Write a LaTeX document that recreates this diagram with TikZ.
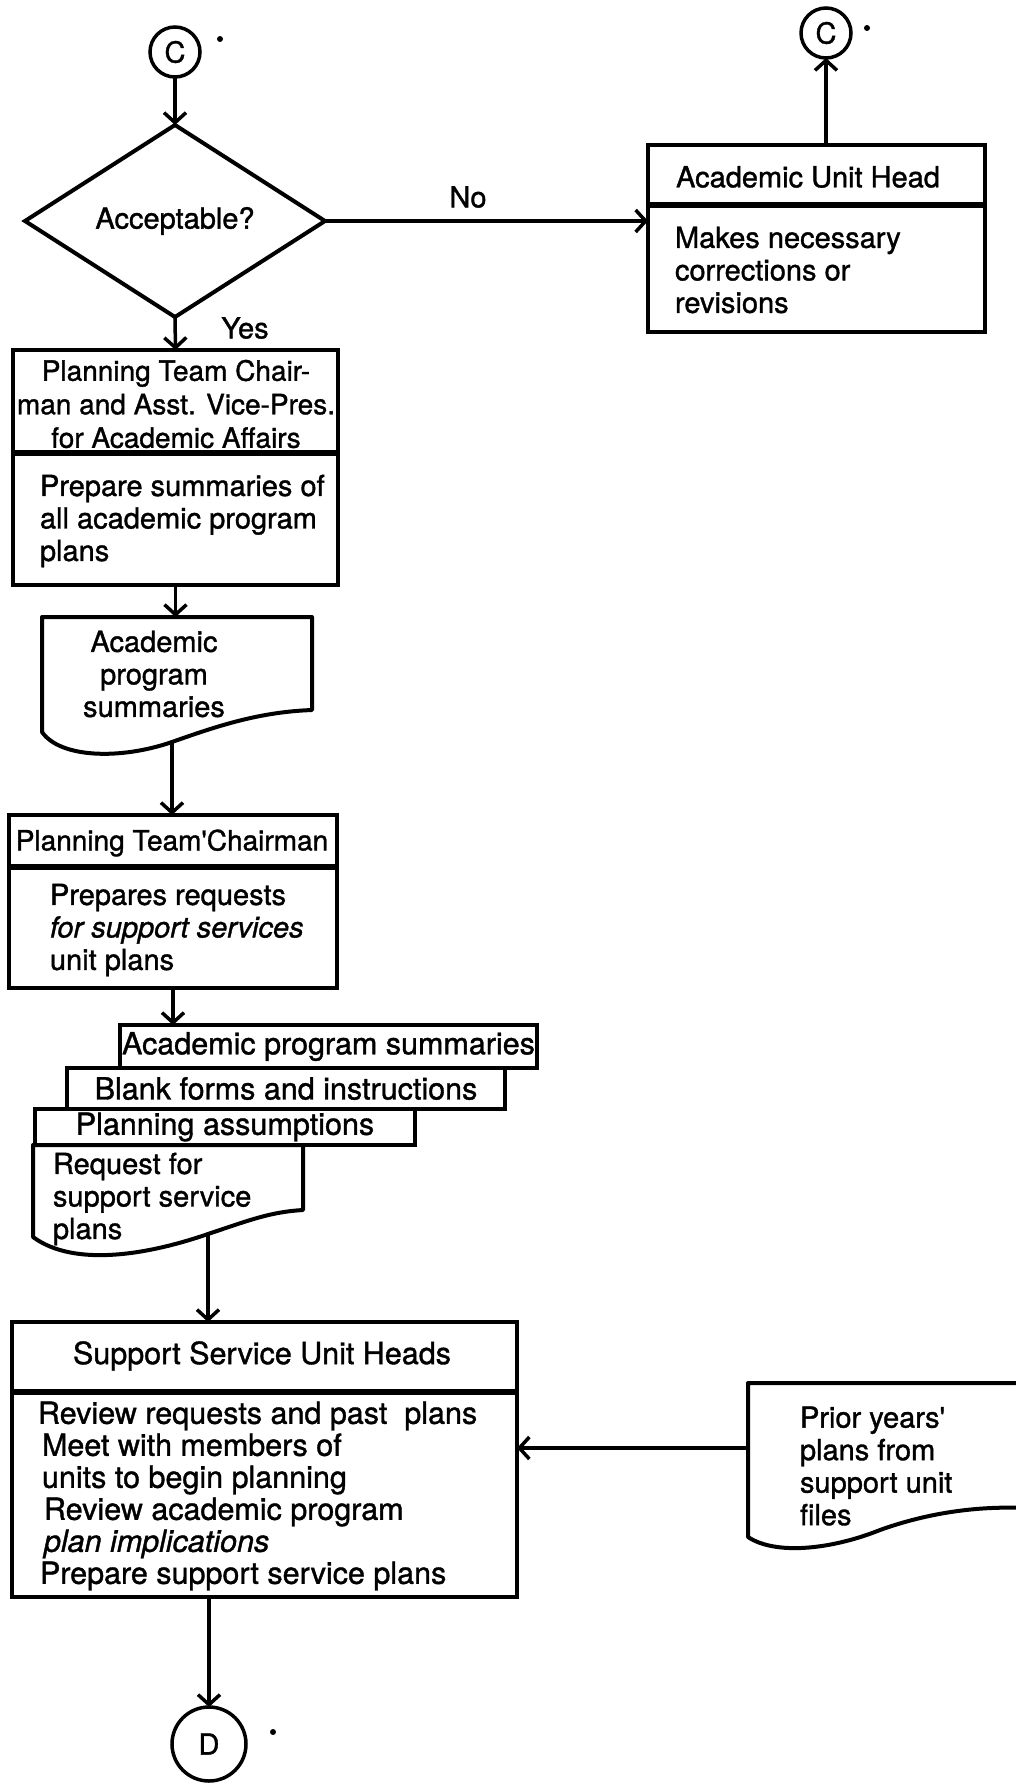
\documentclass[tikz,border=0pt]{standalone}
\usepackage{fontspec}
\setmainfont{TeX Gyre Heros}[FakeBold=1.2]
\newfontfamily\straightquote{TeX Gyre Heros}[FakeBold=1.2, Ligatures=TeXOff]
\newcommand{\tick}{{\straightquote '}}
\usetikzlibrary{arrows.meta,shapes.geometric}
\begin{document}
\begin{tikzpicture}[x=1pt,y=-1pt,
  every node/.style={font=\fontsize{29}{32.5}\selectfont, inner sep=0pt, outer sep=0pt},
  flow/.style={line width=3.5pt, -{Straight Barb[length=10pt,width=22pt,line width=3.5pt]}},
  frame/.style={draw, line width=4pt, rectangle, fill=white, anchor=north west},
  divider/.style={line width=6pt},
  junction/.style={draw, circle, line width=3.5pt, minimum size=50pt},
  leftlines/.style={align=left, anchor=west},
  midlines/.style={align=center},
  docedge/.style={line width=4pt, line join=round, fill=white},
  mark dot/.style={fill=black},
  narrow/.style={font=\fontsize{28}{33.5}\selectfont},
  large/.style={font=\fontsize{30.5}{32}\selectfont},
]
\useasboundingbox (0,0) rectangle (1016,1783);

% ---- decision on the returned plan
\node[junction] (c1) at (175,52) {C};
\fill[mark dot] (220,39) circle (3pt);
\node[draw, diamond, line width=4pt, minimum width=300pt, minimum height=192pt] (dec) at (175,221) {Acceptable?};
\node (yes) at (245,328) {Yes};
\node (no) at (468,197) {No};

% ---- academic unit head
\node[frame, minimum width=337pt, minimum height=187pt] (auh) at (648,145) {};
\draw[divider] (auh.west |- 0,205) -- (auh.east |- 0,205);
\node (auht) at (808,177) {Academic Unit Head};
\node[leftlines] (auhb) at (675,270) {Makes necessary\\corrections or\\revisions};
\node[junction] (c2) at (826,33) {C};
\fill[mark dot] (867,28) circle (3pt);

% ---- summaries of academic plans
\node[frame, minimum width=325pt, minimum height=235pt] (b1) at (13,350) {};
\draw[divider] (b1.west |- 0,453) -- (b1.east |- 0,453);
\node[midlines, narrow] (b1t) at (176,404) {Planning Team Chair-\\man and Asst. Vice-Pres.\\for Academic Affairs};
\node[leftlines] (b1b) at (40,521) {Prepare summaries of\\all academic program\\plans};

% document: academic program summaries
\node[anchor=north west, minimum width=270pt, minimum height=93pt] (d1) at (42,617) {};
\draw[docedge] (42,617) -- (312,617) -- (312,710)
  .. controls (260,712) and (220,725) .. (172,742)
  .. controls (120,760) and (60,758) .. (42,732) -- cycle;
\coordinate (d1out) at (172,742);
\node[midlines] (d1t) at (154,674) {Academic\\program\\summaries};

% ---- requests for support service plans
\node[frame, minimum width=328pt, minimum height=173pt] (b2) at (9,815) {};
\draw[divider] (b2.west |- 0,867) -- (b2.east |- 0,867);
\node[narrow] (b2t) at (172,843) {Planning Team\tick Chairman};
\node[leftlines] (b2b) at (50,930) {Prepares requests\\\itshape for support services\\unit plans};

% stacked documents
\node[frame, large, minimum width=417pt, minimum height=43pt] (s1) at (120,1025) {Academic program summaries};
\node[frame, large, minimum width=438pt, minimum height=41pt] (s2) at (67,1068) {Blank forms and instructions};
\node[frame, large, minimum width=380pt, minimum height=36pt] (s3) at (35,1109) {Planning assumptions};
\draw[docedge] (33,1145) -- (303,1145) -- (303,1210)
  .. controls (270,1212) and (250,1220) .. (208,1234)
  .. controls (150,1254) and (75,1268) .. (33,1237) -- cycle;
\coordinate (rqout) at (208,1234);
\node[leftlines] (rqt) at (53,1199) {Request for\\support service\\plans};

% ---- support service unit heads
\node[frame, minimum width=505pt, minimum height=275pt] (b3) at (12,1322) {};
\draw[divider] (b3.west |- 0,1392) -- (b3.east |- 0,1392);
\node[large] (b3t) at (262,1356) {Support Service Unit Heads};
\node[leftlines, large] (b3b) at (38,1496) {Review requests and past\ \ plans\\
  \hspace*{4pt}Meet with members of\\
  \hspace*{4pt}units to begin planning\\
  \hspace*{6pt}Review academic program\\
  \hspace*{6pt}\itshape plan implications\\
  \hspace*{2pt}Prepare support service plans};

% prior years' plans
\draw[docedge] (1024,1383) -- (748,1383) -- (748,1537)
  .. controls (775,1555) and (830,1550) .. (880,1530)
  .. controls (930,1512) and (980,1506) .. (1024,1508);
\coordinate (pin) at (748,1448);
\node[leftlines] (pyt) at (800,1466) {Prior years\tick\\plans from\\support unit\\files};

\node[junction, minimum size=74pt] (dc) at (209,1744) {D};
\fill[mark dot] (273,1732) circle (3pt);

% ---- connectors
\draw[flow] (c1.south) -- (dec.north);
\draw[flow] (dec.east) -- (dec.east -| auh.west);
\draw[flow] (c2.south |- auh.north) -- (c2.south);
\draw[flow] (dec.south) -- (b1.north);
\draw[flow] (b1.south) -- (b1.south |- d1.north);
\draw[flow] (d1out) -- (d1out |- b2.north);
\draw[flow] (b2.south) -- (b2.south |- s1.north);
\draw[flow] (rqout) -- (rqout |- b3.north);
\draw[flow] (pin) -- (pin -| b3.east);
\draw[flow] (dc.north |- b3.south) -- (dc.north);
\end{tikzpicture}
\end{document}
